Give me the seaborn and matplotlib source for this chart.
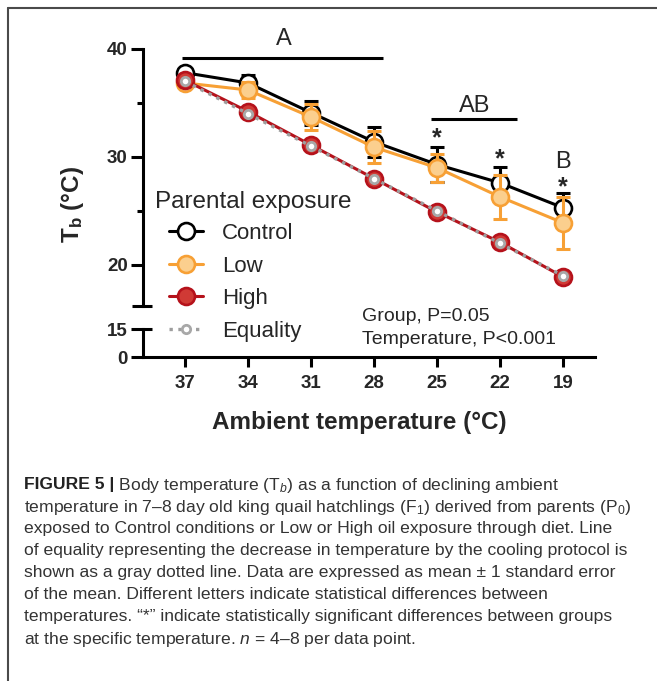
import matplotlib
matplotlib.use("Agg")
import matplotlib.pyplot as plt
import matplotlib.transforms as mtrans
from matplotlib.lines import Line2D
import seaborn as sns

# ---------------- data ----------------
ambient = [37, 34, 31, 28, 25, 22, 19]
tick_labels = ["37", "34", "31", "28", "25", "22", "19"]
control_mean = [37.8, 36.85, 34.1, 31.4, 29.3, 27.6, 25.3]
control_se = [0.3, 0.75, 1.1, 1.4, 1.6, 1.5, 1.4]
low_mean = [36.85, 36.2, 33.7, 30.9, 29.0, 26.3, 23.9]
low_se = [0.2, 0.7, 1.2, 1.5, 1.3, 2.0, 2.4]
high_mean = [37.1, 34.2, 31.1, 28.0, 24.9, 22.1, 18.9]
high_se = [0.3, 0.3, 0.3, 0.3, 0.3, 0.3, 0.3]
equality = [37, 34, 31, 28, 25, 22, 19]
group_names = ["Control", "Low", "High", "Equality"]
star_temps = [25, 22, 19]

sns.set_theme(style="ticks")
plt.rcParams["font.family"] = ["Liberation Sans", "DejaVu Sans"]
plt.rcParams["mathtext.fontset"] = "custom"
plt.rcParams["mathtext.rm"] = "Liberation Sans"
plt.rcParams["mathtext.it"] = "Liberation Sans:italic"
plt.rcParams["mathtext.bf"] = "Liberation Sans:bold"

W, H = 657, 681
fig = plt.figure(figsize=(W / 100, H / 100), dpi=100)
fig.patch.set_facecolor("white")


def fp(x, y):
    return (x / W, 1 - y / H)


# frame lines
fig.add_artist(Line2D([8 / W, 8 / W], [0, 1 - 8 / H], transform=fig.transFigure, color="#4a4a4a", lw=1.5))
fig.add_artist(Line2D([8 / W, 1], [1 - 8 / H, 1 - 8 / H], transform=fig.transFigure, color="#4a4a4a", lw=1.5))

X0, X1 = 143, 595
ax = fig.add_axes([X0 / W, 1 - 306 / H, (X1 - X0) / W, (306 - 20) / H])
ax2 = fig.add_axes([X0 / W, 1 - 357 / H, (X1 - X0) / W, 28 / H])

YBOT = 16.2
for a in (ax, ax2):
    a.set_facecolor("none")
    a.set_xlim(39, 17.48)
ax.set_ylim(YBOT, 42.68)
ax2.set_ylim(0, 15)

LW = 2.2
MS = 12.2
orange = "#F7A035"
orange_fill = "#FBCF8E"
red = "#B5121B"
red_fill = "#D03A35"
gray = "#9E9E9E"

# control
ax.errorbar(ambient, control_mean, yerr=control_se, fmt="none", ecolor="black",
            elinewidth=LW, capsize=4.8, capthick=LW, zorder=2)
sns.lineplot(x=ambient, y=control_mean, ax=ax, color="black", lw=LW, marker="o",
             markersize=MS, markerfacecolor="white", mec="black", mew=1.9,
             label=group_names[0], zorder=3, sort=False)
# low
ax.errorbar(ambient, low_mean, yerr=low_se, fmt="none", ecolor=orange,
            elinewidth=LW, capsize=4.8, capthick=LW, zorder=4)
sns.lineplot(x=ambient, y=low_mean, ax=ax, color=orange, lw=LW, marker="o",
             markersize=MS, markerfacecolor=orange_fill, mec=orange, mew=1.9,
             label=group_names[1], zorder=5, sort=False)
# high
ax.errorbar(ambient, high_mean, yerr=high_se, fmt="none", ecolor=red,
            elinewidth=LW, capsize=4.8, capthick=LW, zorder=6)
sns.lineplot(x=ambient, y=high_mean, ax=ax, color=red, lw=LW, marker="o",
             markersize=MS, markerfacecolor=red_fill, mec=red, mew=1.9,
             label=group_names[2], zorder=6, sort=False)
# equality
sns.lineplot(x=ambient, y=equality, ax=ax, color=gray, lw=2.4, linestyle=":",
             marker="o", markersize=6, markerfacecolor="white", mec="#A8A8A8", mew=2.0,
             label=group_names[3], zorder=7, sort=False)

# spines / ticks upper axes
for s in ("top", "right", "bottom"):
    ax.spines[s].set_visible(False)
ax.spines["left"].set_linewidth(LW)
ax.spines["left"].set_color("black")
ax.spines["left"].set_bounds(YBOT, 40)
ax.set_yticks([20, 30, 40])
ax.set_yticks([25, 35], minor=True)
ax.set_xticks([])
ax.tick_params(axis="y", which="major", length=9, width=LW, labelsize=13.5, pad=2, color="black")
ax.tick_params(axis="y", which="minor", length=4.5, width=LW, color="black")
for t in ax.get_yticklabels():
    t.set_fontweight("bold")
ax.set_xlabel("")
ax.set_ylabel("")

# lower axes
for s in ("top", "right"):
    ax2.spines[s].set_visible(False)
for s in ("left", "bottom"):
    ax2.spines[s].set_linewidth(LW)
    ax2.spines[s].set_color("black")
ax2.set_yticks([0, 15])
ax2.set_yticklabels(["0", "15"])
ax2.set_xticks(ambient)
ax2.set_xticklabels(tick_labels)
ax2.tick_params(axis="y", length=9, width=LW, labelsize=13.5, pad=2, color="black")
ax2.tick_params(axis="x", length=7, width=LW, labelsize=13.5, pad=6, color="black")
for t in ax2.get_yticklabels() + ax2.get_xticklabels():
    t.set_fontweight("bold")

# break caps
tr1 = mtrans.blended_transform_factory(ax.transAxes, ax.transData)
ax.plot([-0.024, 0.02], [YBOT, YBOT], transform=tr1, color="black", lw=LW, clip_on=False,
        solid_capstyle="butt")
tr2 = mtrans.blended_transform_factory(ax2.transAxes, ax2.transData)
ax2.plot([0, 0.02], [15, 15], transform=tr2, color="black", lw=LW, clip_on=False,
         solid_capstyle="butt")

# significance annotations
ax.plot([37.16, 27.57], [39.2, 39.2], color="black", lw=LW, clip_on=False, solid_capstyle="butt")
ax.text(32.3, 40.37, "A", ha="center", va="baseline", fontsize=17, clip_on=False)
ax.plot([25.29, 21.19], [33.52, 33.52], color="black", lw=LW, clip_on=False, solid_capstyle="butt")
ax.text(23.2, 34.14, "AB", ha="center", va="baseline", fontsize=17)
ax.text(19, 28.95, "B", ha="center", va="baseline", fontsize=17)
for xt, yb in zip(star_temps, [31.09, 29.15, 26.56]):
    ax.text(xt, yb, "*", ha="center", va="baseline", fontsize=18, fontweight="bold")

# legend
leg = ax.legend(loc="upper left", bbox_to_anchor=fp(169, 223), bbox_transform=fig.transFigure,
                frameon=False, fontsize=16, labelspacing=0.52, handlelength=1.55,
                handletextpad=0.85, borderpad=0, borderaxespad=0, numpoints=1)
fig.text(*fp(155, 202), "Parental exposure", fontsize=17.5, ha="left", va="center")

# stats text
fig.text(*fp(362, 316), "Group, P=0.05", fontsize=14, ha="left", va="center")
fig.text(*fp(362, 340), "Temperature, P<0.001", fontsize=14, ha="left", va="center")

# axis labels
fig.text(*fp(359, 422), "Ambient temperature (°C)", fontsize=17.5, fontweight="bold",
         ha="center", va="center")
fig.text(*fp(72, 205), r"$\mathbf{T_b}$ (°C)", fontsize=17.5, fontweight="bold",
         ha="center", va="center", rotation=90)

# caption
cap_lines = [
    r" Body temperature (T$_{b}$) as a function of declining ambient",
    r"temperature in 7–8 day old king quail hatchlings (F$_{1}$) derived from parents (P$_{0}$)",
    "exposed to Control conditions or Low or High oil exposure through diet. Line",
    "of equality representing the decrease in temperature by the cooling protocol is",
    "shown as a gray dotted line. Data are expressed as mean ± 1 standard error",
    "of the mean. Different letters indicate statistical differences between",
    "temperatures. “*” indicate statistically significant differences between groups",
    r"at the specific temperature. $n$ = 4–8 per data point.",
]
CAP_FS = 12.6
cap_col = "#333333"
y0 = 483
dy = 22
bold = fig.text(*fp(24, y0), "FIGURE 5 |", fontsize=CAP_FS, fontweight="bold",
                ha="left", va="center_baseline", color="#222222")
fig.canvas.draw()
bb = bold.get_window_extent()
fig.text(bb.x1 / W, 1 - y0 / H, cap_lines[0], fontsize=CAP_FS, ha="left",
         va="center_baseline", color=cap_col)
for i, line in enumerate(cap_lines[1:], start=1):
    fig.text(*fp(24, y0 + i * dy), line, fontsize=CAP_FS, ha="left",
             va="center_baseline", color=cap_col)

fig.savefig("out.png", dpi=100, facecolor="white")
